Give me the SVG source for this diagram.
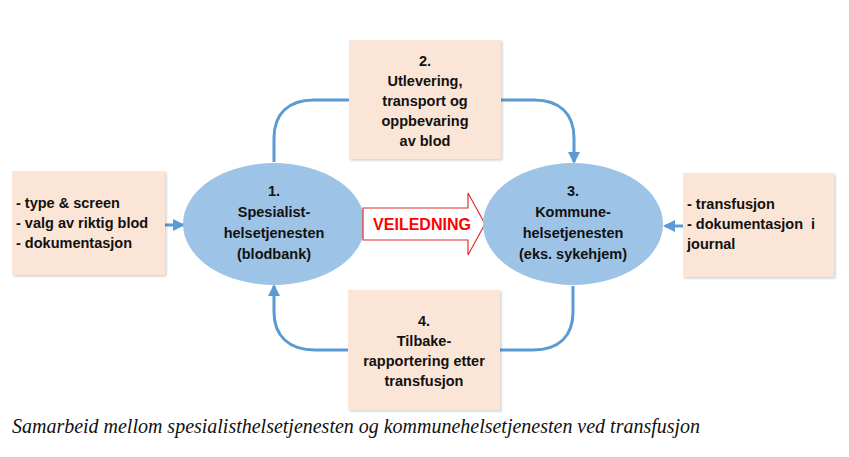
<svg xmlns="http://www.w3.org/2000/svg" width="849" height="457" viewBox="0 0 849 457">
<style>
.box{fill:#FBE5D6;filter:url(#sh)}
.ell{fill:#9DC3E6}
.t{font-family:"Liberation Sans",Arial,sans-serif;font-weight:bold;font-size:14.5px;fill:#111}
.c{text-anchor:middle}
.con{fill:none;stroke:#5B9BD5;stroke-width:3}
.cap{font-family:"Liberation Serif","Times New Roman",serif;font-style:italic;font-size:22px;fill:#111}
</style>
<defs>
<filter id="sh" x="-10%" y="-10%" width="120%" height="120%">
<feDropShadow dx="1.5" dy="1.5" stdDeviation="1.2" flood-color="#000" flood-opacity="0.18"/>
</filter>
<marker id="ah" markerUnits="userSpaceOnUse" markerWidth="12" markerHeight="12" viewBox="0 0 12 12" refX="10" refY="6" orient="auto">
<path d="M0,0 L12,6 L0,12 z" fill="#5B9BD5"/>
</marker>
</defs>

<g id="connectors">
<path class="con" d="M349,100 H314 C288,100 274,114 274,138 V162"/>
<path class="con" d="M501,100 H534 C560,100 574,114 574,138 V162" marker-end="url(#ah)"/>
<path class="con" d="M573,286 V312 C573,336 559,350 533,350 H500"/>
<path class="con" d="M348,350 H315 C289,350 274,336 274,312 V286" marker-end="url(#ah)"/>
<path class="con" d="M165,225 H183" marker-end="url(#ah)"/>
<path class="con" d="M683,226 H665" marker-end="url(#ah)"/>
</g>

<g id="box-left">
<rect class="box" x="12" y="171" width="153" height="104"/>
<text class="t" x="16" y="208">- type &amp; screen</text>
<text class="t" x="16" y="228">- valg av riktig blod</text>
<text class="t" x="16" y="248">- dokumentasjon</text>
</g>

<g id="box-2">
<rect class="box" x="349" y="40" width="152" height="119"/>
<text class="t c" x="425" y="66">2.</text>
<text class="t c" x="425" y="86">Utlevering,</text>
<text class="t c" x="425" y="106">transport og</text>
<text class="t c" x="425" y="126">oppbevaring</text>
<text class="t c" x="425" y="146">av blod</text>
</g>

<g id="node-1">
<ellipse class="ell" cx="274" cy="224" rx="91" ry="61"/>
<text class="t c" x="274" y="196">1.</text>
<text class="t c" x="274" y="217">Spesialist-</text>
<text class="t c" x="274" y="238">helsetjenesten</text>
<text class="t c" x="274" y="259">(blodbank)</text>
</g>

<g id="veiledning">
<path d="M363,208 H468 V193 L485,224 L468,255 V240 H363 z" fill="#fff" stroke="#E03030" stroke-width="1.2"/>
<text x="422" y="230" text-anchor="middle" style="font-family:'Liberation Sans',Arial,sans-serif;font-weight:bold;font-size:16px;fill:#FF0000">VEILEDNING</text>
</g>

<g id="node-3">
<ellipse class="ell" cx="573" cy="224" rx="90" ry="61"/>
<text class="t c" x="573" y="196">3.</text>
<text class="t c" x="573" y="217">Kommune-</text>
<text class="t c" x="573" y="238">helsetjenesten</text>
<text class="t c" x="573" y="259">(eks. sykehjem)</text>
</g>

<g id="box-right">
<rect class="box" x="683" y="173" width="151" height="104"/>
<text class="t" x="687" y="209">- transfusjon</text>
<text class="t" x="687" y="229" xml:space="preserve">- dokumentasjon  i</text>
<text class="t" x="687" y="249">journal</text>
</g>

<g id="box-4">
<rect class="box" x="348" y="290" width="152" height="120"/>
<text class="t c" x="424" y="326">4.</text>
<text class="t c" x="424" y="346">Tilbake-</text>
<text class="t c" x="424" y="366">rapportering etter</text>
<text class="t c" x="424" y="386">transfusjon</text>
</g>

<text class="cap" x="12" y="433" textLength="688" lengthAdjust="spacingAndGlyphs">Samarbeid mellom spesialisthelsetjenesten og kommunehelsetjenesten ved transfusjon</text>
</svg>
